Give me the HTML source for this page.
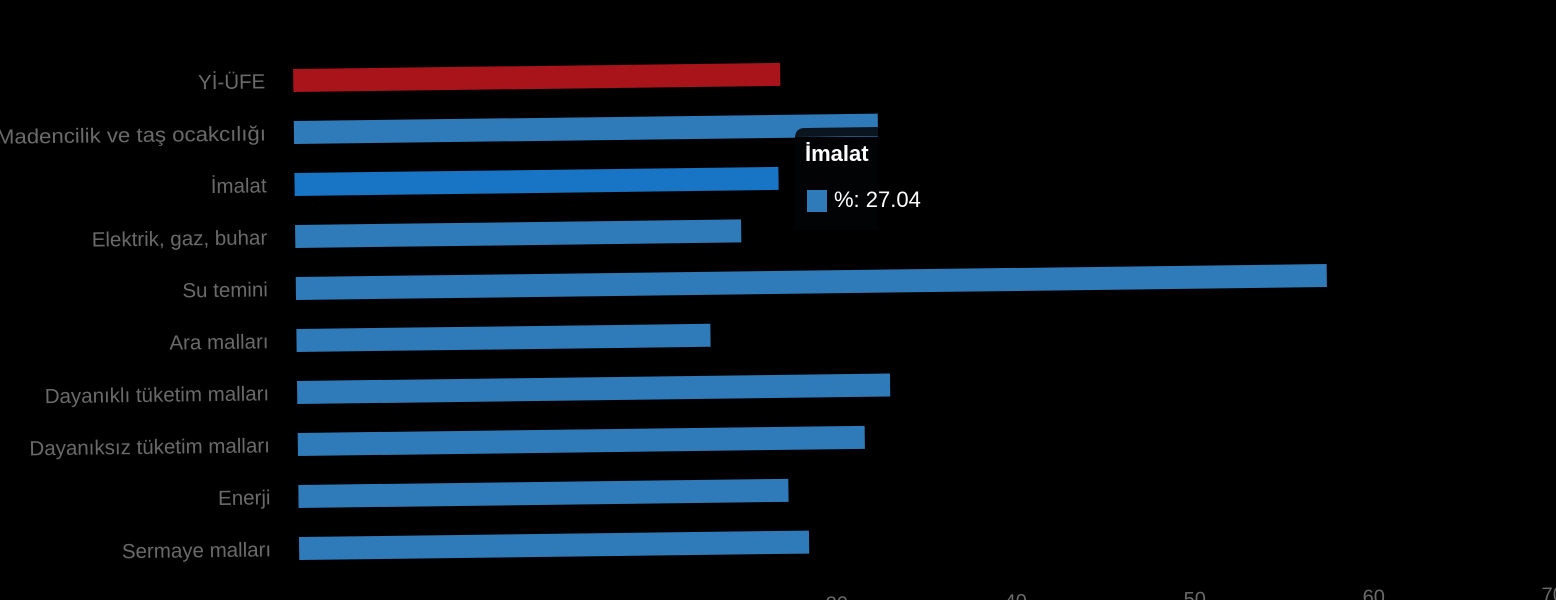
<!DOCTYPE html>
<html><head><meta charset="utf-8"><style>
html,body{margin:0;padding:0;background:#000;width:1556px;height:600px;overflow:hidden}
svg{display:block}
text{font-family:"Liberation Sans",sans-serif}
</style></head><body>
<svg width="1556" height="600" viewBox="0 0 1556 600">
<rect width="1556" height="600" fill="#000"/>
<g transform="rotate(-0.72 296 300)">
<g font-size="20.5" fill="#6a6a6a" text-anchor="end">
<text x="268" y="88">Yİ-ÜFE</text>
<text x="268" y="140" textLength="270" lengthAdjust="spacingAndGlyphs">Madencilik ve taş ocakcılığı</text>
<text x="268" y="192">İmalat</text>
<text x="268" y="244">Elektrik, gaz, buhar</text>
<text x="268" y="296">Su temini</text>
<text x="268" y="348">Ara malları</text>
<text x="268" y="400">Dayanıklı tüketim malları</text>
<text x="268" y="452">Dayanıksız tüketim malları</text>
<text x="268" y="504">Enerji</text>
<text x="268" y="556">Sermaye malları</text>
</g>
<rect x="296" y="69" width="487" height="23" fill="#a8141a"/>
<rect x="296" y="121" width="584" height="23" fill="#2f7bb9"/>
<rect x="296" y="173" width="484" height="23" fill="#1874c4"/>
<rect x="296" y="225" width="446" height="23" fill="#2f7bb9"/>
<rect x="296" y="277" width="1031" height="23" fill="#2f7bb9"/>
<rect x="296" y="329" width="414" height="23" fill="#2f7bb9"/>
<rect x="296" y="381" width="593" height="23" fill="#2f7bb9"/>
<rect x="296" y="433" width="567" height="23" fill="#2f7bb9"/>
<rect x="296" y="485" width="490" height="23" fill="#2f7bb9"/>
<rect x="296" y="537" width="510" height="23" fill="#2f7bb9"/>
<g font-size="20" fill="#6a6a6a" text-anchor="middle">
<text x="833" y="617">30</text>
<text x="1012" y="617">40</text>
<text x="1191" y="617">50</text>
<text x="1370" y="617">60</text>
<text x="1549" y="617">70</text>
</g>
</g>
<path d="M795 138 Q795 128 805 128 L878 127 L878 136 L795 137 Z" fill="#0b1520"/>
<rect x="795" y="137" width="83" height="93" fill="#020304"/>
<text x="805" y="161" font-size="22" font-weight="bold" fill="#fff">İmalat</text>
<rect x="807" y="190" width="20" height="22" fill="#2f7bb9"/>
<text x="834" y="207" font-size="22" fill="#fff">%: 27.04</text>
</svg>
</body></html>
